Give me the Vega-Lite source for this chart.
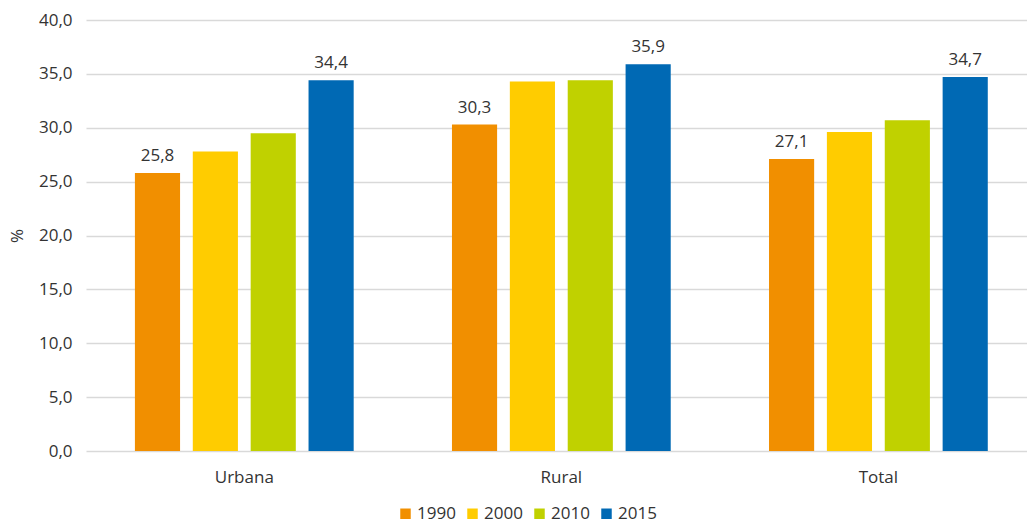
{
  "$schema": "https://vega.github.io/schema/vega-lite/v6.json",
  "width": 941,
  "height": 431,
  "autosize": {"type": "none"},
  "padding": {"left": 86, "top": 20, "right": 0, "bottom": 72},
  "background": "white",
  "config": {
    "locale": {"number": {"decimal": ",", "thousands": ".", "grouping": [3], "currency": ["", " €"]}},
    "font": "Open Sans",
    "view": {"stroke": null},
    "axis": {"labelColor": "#333333", "titleColor": "#333333", "labelFontSize": 17, "labelFont": "Open Sans"}
  },
  "data": {
    "values": [
      {"zona": "Urbana", "ano": "1990", "valor": 25.8},
      {"zona": "Urbana", "ano": "2000", "valor": 27.8},
      {"zona": "Urbana", "ano": "2010", "valor": 29.5},
      {"zona": "Urbana", "ano": "2015", "valor": 34.4},
      {"zona": "Rural", "ano": "1990", "valor": 30.3},
      {"zona": "Rural", "ano": "2000", "valor": 34.3},
      {"zona": "Rural", "ano": "2010", "valor": 34.4},
      {"zona": "Rural", "ano": "2015", "valor": 35.9},
      {"zona": "Total", "ano": "1990", "valor": 27.1},
      {"zona": "Total", "ano": "2000", "valor": 29.6},
      {"zona": "Total", "ano": "2010", "valor": 30.7},
      {"zona": "Total", "ano": "2015", "valor": 34.7}
    ]
  },
  "encoding": {
    "x": {
      "field": "zona", "type": "nominal", "sort": ["Urbana", "Rural", "Total"],
      "scale": {"paddingInner": 0.31, "paddingOuter": 0.139, "align": 0.555},
      "axis": {"title": null, "labelAngle": 0, "ticks": false, "domain": false, "labelPadding": 18, "labelFontSize": 17}
    },
    "xOffset": {"field": "ano", "type": "nominal", "scale": {"paddingInner": 0.22, "paddingOuter": 0}},
    "y": {
      "field": "valor", "type": "quantitative",
      "scale": {"domain": [0, 40]},
      "axis": {"title": "%", "titleFontSize": 17, "titleFontWeight": "normal", "titlePadding": 12, "format": ".1f", "values": [0, 5, 10, 15, 20, 25, 30, 35, 40], "labelOverlap": false, "ticks": false, "domain": false, "labelPadding": 14, "gridColor": "#d9d9d9", "gridWidth": 1.3}
    }
  },
  "layer": [
    {
      "mark": {"type": "bar"},
      "encoding": {
        "color": {
          "field": "ano", "type": "nominal",
          "scale": {"domain": ["1990", "2000", "2010", "2015"], "range": ["#F18F00", "#FFCC00", "#C0D100", "#0069B4"]},
          "legend": {"title": null, "orient": "none", "direction": "horizontal", "legendX": 311, "legendY": 485, "symbolType": "square", "symbolSize": 110, "symbolStrokeWidth": 0, "labelFontSize": 17, "labelColor": "#333333", "columnPadding": 8, "labelOffset": 3}
        }
      }
    },
    {
      "transform": [{"filter": "datum.ano == '1990' || datum.ano == '2015'"}],
      "mark": {"type": "text", "baseline": "bottom", "dy": -8, "fontSize": 17, "color": "#333333"},
      "encoding": {"text": {"field": "valor", "type": "quantitative", "format": ".1f"}}
    }
  ]
}
